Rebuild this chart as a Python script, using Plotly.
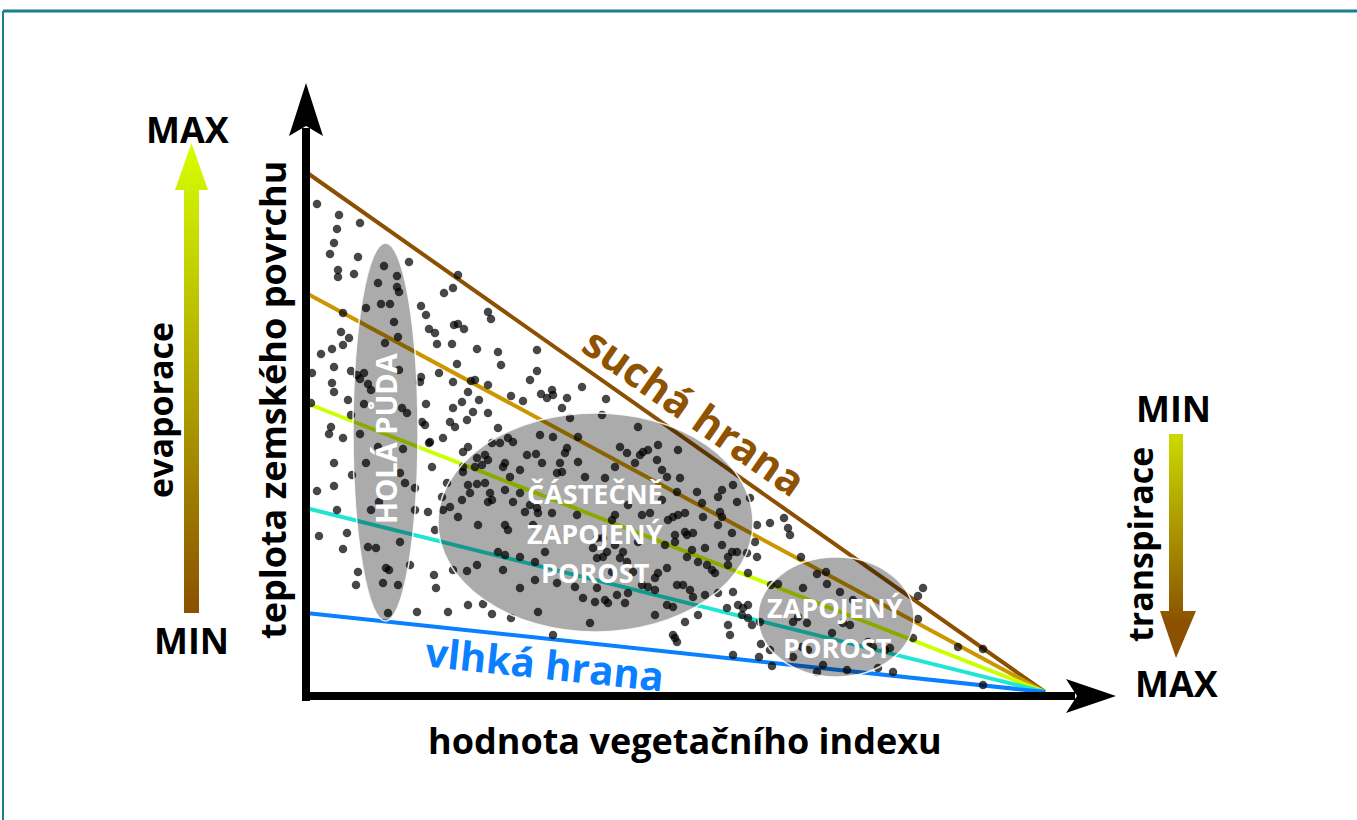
import plotly.graph_objects as go

# ---------------- canvas / coordinate helpers ----------------
W, H = 1357, 820
OX, OY = 306, 696  # page position of the diagram origin


def P(px, py):
    """page position -> diagram units (used only for layout decorations)"""
    return px - OX, OY - py


# ---------------- data ----------------
# edges of the triangle: value at zero vegetation index, all meet at the same point
edge_names = ["suchá hrana", "edge 2", "edge 3", "edge 4", "vlhká hrana"]
edge_intercepts = [524, 403, 293, 188, 83]
edge_colors = ["#8B5000", "#CC9600", "#CCFF00", "#1EE6D2", "#0A80FF"]
edge_widths = [4, 4, 4, 4, 4]
converge_ndvi = 739
converge_lst = 4

# pixels (vegetation index, surface temperature) in relative units, grouped by area
pts_upper = [
    (11, 492), (33, 481), (54, 473), (31, 467), (28, 453), (24, 442), (52, 439), (103, 434), (78, 430), (32, 426),
    (32, 419), (48, 422), (91, 420), (152, 421), (72, 413), (91, 409), (93, 404), (147, 408), (138, 403), (75, 392),
    (84, 392), (60, 388), (115, 390), (120, 381), (37, 383), (182, 384), (185, 377), (88, 374), (148, 371), (152, 372),
    (158, 367), (123, 367), (129, 363), (131, 352), (35, 364), (43, 358), (37, 351), (92, 359), (79, 353), (146, 352),
    (171, 347), (231, 346), (26, 347), (15, 342), (192, 344), (195, 331), (151, 332), (28, 329), (133, 323), (45, 325),
    (51, 321), (58, 323), (54, 317), (231, 325), (93, 326), (114, 314), (115, 319), (147, 314), (165, 315), (169, 316),
    (182, 311), (224, 316), (276, 309), (26, 313), (28, 304), (62, 312), (65, 306), (162, 304), (6, 323), (120, 292),
    (156, 294), (173, 296), (205, 300), (217, 295), (235, 302), (241, 298), (246, 306), (247, 301), (261, 298), (300, 297),
    (42, 296), (58, 292), (96, 288), (101, 283), (45, 281), (5, 293), (25, 269), (23, 262), (37, 258), (54, 262),
    (116, 274), (119, 271), (97, 247), (123, 253), (72, 249),
]
pts_left = [
    (28, 233), (46, 221), (28, 210), (11, 205), (31, 186), (13, 160), (41, 163), (37, 147), (52, 124), (50, 111),
    (60, 233), (65, 186), (73, 194), (62, 149), (70, 148), (94, 154), (80, 128), (83, 126), (77, 113), (92, 111),
    (82, 83), (104, 131), (109, 208), (109, 186), (94, 223), (99, 213), (111, 84), (122, 184), (371, 54), (427, 41),
]
pts_middle_a = [
    (147, 288), (167, 284), (182, 283), (144, 274), (149, 269), (161, 276), (137, 258), (124, 254), (192, 268), (202, 258),
    (207, 254), (186, 253), (194, 253), (162, 249), (157, 244), (234, 261), (247, 259), (264, 278), (256, 288), (272, 259),
    (221, 241), (230, 242), (259, 243), (261, 248), (254, 233), (272, 234), (171, 238), (179, 241), (182, 236), (176, 231),
    (169, 229), (197, 229), (199, 233), (214, 226), (236, 233), (256, 224), (251, 223), (157, 224), (157, 229), (126, 229),
    (279, 219), (204, 219), (141, 213), (162, 211), (171, 212), (164, 203), (179, 213), (184, 203), (186, 196), (182, 194),
    (199, 206), (214, 203), (207, 194), (156, 196), (136, 199), (137, 186), (144, 189), (152, 179), (219, 184), (224, 191),
    (231, 188), (232, 183), (246, 183), (271, 181), (172, 171), (199, 171), (202, 166), (227, 171), (129, 166), (239, 144),
    (192, 144), (199, 141), (171, 131), (197, 126), (214, 139), (229, 134), (251, 113), (269, 109), (214, 108), (229, 116),
    (128, 121), (130, 108), (147, 126), (161, 125), (142, 84), (162, 91), (177, 92), (186, 82), (205, 78), (232, 84),
    (247, 61), (284, 73), (289, 94), (291, 158), (287, 148), (291, 138), (277, 98),
]
pts_middle_b = [
    (332, 269), (296, 281), (314, 249), (321, 243), (334, 241), (337, 244), (342, 246), (352, 251), (372, 246), (351, 236),
    (356, 226), (361, 219), (329, 233), (309, 229), (374, 218), (299, 218), (391, 204), (416, 206), (412, 199), (431, 194),
    (444, 198), (396, 193), (356, 196), (371, 204), (322, 191), (344, 183), (336, 181), (309, 181), (306, 176), (362, 176),
    (367, 179), (372, 181), (379, 183), (397, 179), (414, 184), (416, 179), (412, 171), (426, 163), (379, 164), (381, 161),
    (387, 163), (369, 161), (369, 154), (359, 151), (399, 148), (386, 146), (416, 151), (426, 144), (422, 139), (431, 144),
    (441, 143), (442, 123), (422, 131), (406, 126), (401, 131), (409, 123), (392, 134), (381, 139), (361, 128), (352, 123),
    (349, 118), (371, 111), (377, 111), (384, 106), (387, 99), (399, 101), (412, 103), (427, 104), (432, 91), (437, 88),
    (442, 91), (421, 88), (349, 106), (336, 111), (342, 109), (322, 103), (311, 101), (319, 93), (299, 96), (302, 93),
    (361, 91), (367, 89), (349, 81), (379, 74), (392, 81), (367, 61), (369, 58), (422, 71), (436, 81), (442, 78),
    (446, 71), (454, 74), (424, 61), (317, 144), (309, 151), (301, 144), (297, 139), (297, 158), (314, 138), (321, 134),
    (327, 124), (306, 124), (291, 108), (332, 154), (451, 171), (449, 154), (451, 139), (427, 211),
]
pts_right = [
    (464, 173), (478, 178), (482, 168), (484, 161), (495, 139), (465, 111), (472, 112), (497, 108), (511, 122), (520, 124),
    (521, 112), (534, 104), (547, 96), (617, 108), (612, 100), (612, 77), (487, 74), (501, 73), (492, 79), (537, 73),
    (544, 71), (455, 52), (464, 46), (453, 39), (466, 30), (496, 49), (502, 46), (487, 39), (526, 63), (562, 54),
    (567, 49), (579, 46), (584, 48), (517, 31), (541, 26), (572, 28), (587, 24), (511, 24), (652, 49), (677, 47),
    (677, 11), (607, 58),
]
all_pts = pts_upper + pts_left + pts_middle_a + pts_middle_b + pts_right
ndvi = [p[0] for p in all_pts]
lst = [p[1] for p in all_pts]

# land-cover zones: extent in diagram units
zone_names = ["HOLÁ PŮDA", "ČÁSTEČNĚ ZAPOJENÝ POROST", "ZAPOJENÝ POROST"]
zone_ndvi_min = [47, 132, 452]
zone_ndvi_max = [112, 447, 608]
zone_lst_min = [75, 64, 19]
zone_lst_max = [453, 283, 139]

FONT = "Open Sans"

fig = go.Figure()

# edges
for name, b, col, lw in zip(edge_names, edge_intercepts, edge_colors, edge_widths):
    fig.add_trace(go.Scatter(
        x=[0, converge_ndvi], y=[b, converge_lst], mode="lines",
        line=dict(color=col, width=lw), name=name, hoverinfo="skip",
    ))

# pixels
fig.add_trace(go.Scatter(
    x=ndvi, y=lst, mode="markers",
    marker=dict(size=8.5, color="rgba(0,0,0,0.72)", line=dict(width=0)),
    name="pixely", hoverinfo="skip",
))

# gradient arrows (evaporace / transpirace)
lx = [184, 199, 199, 208, 191.5, 175, 184, 184]
ly = [613, 613, 190, 190, 143, 190, 190, 613]
fig.add_trace(go.Scatter(
    x=[P(a, b)[0] for a, b in zip(lx, ly)], y=[P(a, b)[1] for a, b in zip(lx, ly)],
    mode="lines", fill="toself", line=dict(width=0, color="rgba(0,0,0,0)"),
    fillgradient=dict(type="vertical", colorscale=[[0, "#8B5000"], [1, "#D6FF00"]],
                      start=P(0, 613)[1], stop=P(0, 143)[1]),
    hoverinfo="skip",
))
rx = [1169, 1183, 1183, 1196, 1176, 1160, 1169, 1169]
ry = [434, 434, 611, 611, 658, 611, 611, 434]
fig.add_trace(go.Scatter(
    x=[P(a, b)[0] for a, b in zip(rx, ry)], y=[P(a, b)[1] for a, b in zip(rx, ry)],
    mode="lines", fill="toself", line=dict(width=0, color="rgba(0,0,0,0)"),
    fillgradient=dict(type="vertical", colorscale=[[0, "#8B5000"], [1, "#CADB00"]],
                      start=P(0, 625)[1], stop=P(0, 434)[1]),
    hoverinfo="skip",
))

shapes = []
# zones (multiply-like grey)
for x0, x1, y0, y1 in zip(zone_ndvi_min, zone_ndvi_max, zone_lst_min, zone_lst_max):
    shapes.append(dict(type="circle", xref="x", yref="y", x0=x0, x1=x1, y0=y0, y1=y1,
                       fillcolor="rgba(0,0,0,0.33)", line=dict(color="rgba(255,255,255,0.85)", width=1.5),
                       layer="above"))

# axes with arrow heads
ax0 = P(306, 701); ax1 = P(306, 128)
shapes.append(dict(type="line", xref="x", yref="y", x0=ax0[0], y0=ax0[1], x1=ax1[0], y1=ax1[1],
                   line=dict(color="black", width=8), layer="above"))
bx0 = P(302, 696); bx1 = P(1075, 696)
shapes.append(dict(type="line", xref="x", yref="y", x0=bx0[0], y0=bx0[1], x1=bx1[0], y1=bx1[1],
                   line=dict(color="black", width=8), layer="above"))


def path(pts):
    return "M " + " L ".join(f"{P(a, b)[0]},{P(a, b)[1]}" for a, b in pts) + " Z"


shapes.append(dict(type="path", xref="x", yref="y",
                   path=path([(306, 83), (323, 136), (306, 126), (289, 136)]),
                   fillcolor="black", line=dict(width=0), layer="above"))
shapes.append(dict(type="path", xref="x", yref="y",
                   path=path([(1116, 696), (1066, 713), (1077, 696), (1066, 679)]),
                   fillcolor="black", line=dict(width=0), layer="above"))

# teal frame
f0 = P(3, 11); f1 = P(1357, 11); f2 = P(3, 820)
shapes.append(dict(type="line", xref="x", yref="y", x0=f0[0], y0=f0[1], x1=f1[0], y1=f1[1],
                   line=dict(color="#17808A", width=3), layer="above"))
shapes.append(dict(type="line", xref="x", yref="y", x0=f0[0], y0=f0[1], x1=f2[0], y1=f2[1],
                   line=dict(color="#17808A", width=2), layer="above"))

annotations = []


def txt(text, px, py, size, color="black", angle=0, weight="bold"):
    x, y = P(px, py)
    annotations.append(dict(text=text, x=x, y=y, xref="x", yref="y", showarrow=False,
                            xanchor="center", yanchor="middle", textangle=angle,
                            font=dict(family=FONT, size=size, color=color, weight=weight)))


txt("hodnota vegetačního indexu", 685, 740, 36)
txt("teplota zemského povrchu", 272, 400, 36, angle=-90)
txt("MAX", 188, 129, 36)
txt("MIN", 191, 640, 36)
txt("evaporace", 160, 410, 34, angle=-90, weight="bold")
txt("MIN", 1173, 408, 36)
txt("MAX", 1177, 683, 36)
txt("transpirace", 1140, 545, 34, angle=-90, weight="bold")
txt(edge_names[0], 695, 410, 42, color="#8F5200", angle=35, weight="bold")
txt(edge_names[-1], 545, 663, 40, color="#0A80FF", angle=6, weight="bold")
txt("HOLÁ PŮDA", 385, 438, 29, color="white", angle=-90, weight="bold")
txt("ČÁSTEČNĚ", 595, 493, 27, color="white", weight="bold")
txt("ZAPOJENÝ", 595, 533, 27, color="white", weight="bold")
txt("POROST", 595, 572, 27, color="white", weight="bold")
txt("ZAPOJENÝ", 835, 607, 27, color="white", weight="bold")
txt("POROST", 837, 647, 27, color="white", weight="bold")

xr = P(0, 0)[0], P(W, 0)[0]
yr = P(0, H)[1], P(0, 0)[1]
fig.update_layout(
    width=W, height=H, margin=dict(l=0, r=0, t=0, b=0),
    paper_bgcolor="white", plot_bgcolor="white", showlegend=False,
    xaxis=dict(range=list(xr), visible=False, fixedrange=True),
    yaxis=dict(range=list(yr), visible=False, fixedrange=True),
    shapes=shapes, annotations=annotations,
)

fig.write_html("out.html", config={"displayModeBar": False},
               post_script="document.body.style.margin='0';")
